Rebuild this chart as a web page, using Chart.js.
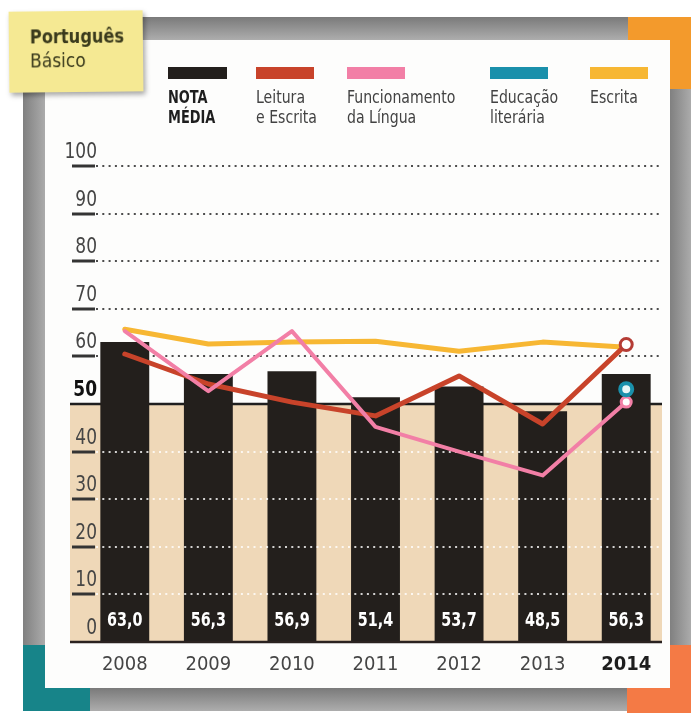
<!DOCTYPE html>
<html>
<head>
<meta charset="utf-8">
<script src="https://cdn.jsdelivr.net/npm/chart.js@4/dist/chart.umd.min.js"></script>
<style>
  body { margin: 0; background: #fff; }
  #wrap { position: relative; width: 691px; height: 713px; overflow: hidden;
          font-family: "DejaVu Sans Condensed", "DejaVu Sans", sans-serif; color: #3c3c3c; }
  .blk { position: absolute; }
  .gray-h { background: linear-gradient(#7a7a7a, #adadad); }
  .gray-v { background: linear-gradient(90deg, #808080, #ababab); }
  #panel { position: absolute; left: 45px; top: 40px; width: 625px; height: 648px; background: #fdfdfc; }
  canvas { position: absolute; left: 0; top: 0; }
  .sw { position: absolute; top: 67px; height: 12px; }
  .lg { position: absolute; top: 87px; font-size: 18px; line-height: 20px; color: #424242;
        transform: scaleX(0.87); transform-origin: left top; white-space: nowrap; }
  #note { position: absolute; left: 9px; top: 11px; width: 134px; height: 81px; background: #f5e993;
          box-shadow: 2px 3px 5px rgba(0,0,0,0.35); transform: rotate(-0.6deg); }
  #note .t1 { position: absolute; left: 21px; top: 14px; font-size: 19px; font-weight: bold; color: #3a3a1c;
              transform: scaleX(0.95); transform-origin: left top; }
  #note .t2 { position: absolute; left: 21px; top: 38px; font-size: 19px; color: #3a3a1c; }
</style>
</head>
<body>
<div id="wrap">
  <!-- frame -->
  <div class="blk gray-h" style="left:95px;top:17px;width:540px;height:23px"></div>
  <div class="blk gray-v" style="left:23px;top:85px;width:22px;height:610px"></div>
  <div class="blk gray-h" style="left:85px;top:688px;width:545px;height:23px"></div>
  <div class="blk gray-v" style="left:670px;top:80px;width:21px;height:570px"></div>
  <div class="blk" style="left:628px;top:17px;width:63px;height:23px;background:#f39a2c"></div>
  <div class="blk" style="left:670px;top:17px;width:21px;height:72px;background:#f39a2c"></div>
  <div class="blk" style="left:23px;top:645px;width:22px;height:66px;background:#178489"></div>
  <div class="blk" style="left:23px;top:688px;width:67px;height:23px;background:#178489"></div>
  <div class="blk" style="left:627px;top:688px;width:64px;height:25px;background:#f47a45"></div>
  <div class="blk" style="left:670px;top:645px;width:21px;height:68px;background:#f47a45"></div>
  <div id="panel"></div>

  <canvas id="c" width="691" height="713"></canvas>

  <!-- legend -->
  <div class="sw" style="left:168px;width:59px;background:#231f1c"></div>
  <div class="sw" style="left:256px;width:58px;background:#c8432a"></div>
  <div class="sw" style="left:347px;width:58px;background:#f27fa6"></div>
  <div class="sw" style="left:490px;width:58px;background:#1a90ab"></div>
  <div class="sw" style="left:590px;width:58px;background:#f7b733"></div>
  <div class="lg" style="left:168px;font-weight:bold;color:#1e1e1e;transform:scaleX(0.8)">NOTA<br>MÉDIA</div>
  <div class="lg" style="left:256px">Leitura<br>e Escrita</div>
  <div class="lg" style="left:347px">Funcionamento<br>da Língua</div>
  <div class="lg" style="left:490px">Educação<br>literária</div>
  <div class="lg" style="left:590px">Escrita</div>

  <div id="note"><div class="t1">Português</div><div class="t2">Básico</div></div>
</div>

<script>
// Portuguese (Básico) exam results by year
const years = ['2008', '2009', '2010', '2011', '2012', '2013', '2014'];
const notaMedia = [63.0, 56.3, 56.9, 51.4, 53.7, 48.5, 56.3];
const leituraEscrita = [60.5, 54.2, 50.4, 47.5, 55.9, 45.8, 62.5];
const funcionamentoLingua = [65.3, 52.7, 65.3, 45.2, 40.0, 35.0, 50.4];
const educacaoLiteraria = [null, null, null, null, null, null, 53.1];
const escrita = [65.7, 62.6, 63.0, 63.2, 61.1, 63.0, 61.9];
const yTicks = [0, 10, 20, 30, 40, 50, 60, 70, 80, 90, 100];

const FONT = '"DejaVu Sans Condensed", "DejaVu Sans", sans-serif';
const TAN = '#efd8b8';
const BAR = '#231f1c';

const fmt = v => v.toFixed(1).replace('.', ',');

// narrow text: draw horizontally squeezed around the anchor point
function squeezedText(ctx, text, x, y, align, sx) {
  ctx.save();
  ctx.translate(x, y);
  ctx.scale(sx, 1);
  ctx.textAlign = align;
  ctx.fillText(text, 0, 0);
  ctx.restore();
}

// background band (0–50), grid, tick dashes, reference lines, labels
const decor = {
  id: 'decor',
  beforeDatasetsDraw(chart) {
    const { ctx, chartArea: a, scales: { y } } = chart;
    const L = a.left - 13, R = a.right - 6;
    const y0 = y.getPixelForValue(0), y50 = y.getPixelForValue(50);
    ctx.save();
    ctx.fillStyle = TAN;
    ctx.fillRect(L, y50, R - L, y0 - y50);

    ctx.setLineDash([2, 4.3]);
    ctx.lineWidth = 2;
    ctx.strokeStyle = '#4d4d4d';
    yTicks.filter(v => v > 50).forEach(v => {
      const p = Math.round(y.getPixelForValue(v));
      ctx.beginPath(); ctx.moveTo(a.left + 13, p); ctx.lineTo(R - 2, p); ctx.stroke();
    });

    ctx.setLineDash([]);
    ctx.lineWidth = 3;
    ctx.strokeStyle = '#343434';
    yTicks.filter(v => v !== 0 && v !== 50).forEach(v => {
      const p = Math.round(y.getPixelForValue(v));
      ctx.beginPath(); ctx.moveTo(L + 2, p); ctx.lineTo(a.left + 12, p); ctx.stroke();
    });

    ctx.lineWidth = 2.5;
    ctx.strokeStyle = '#1f1f1f';
    ctx.beginPath(); ctx.moveTo(L, y50); ctx.lineTo(R, y50); ctx.stroke();

    // y-axis tick labels, sitting above their tick dash
    ctx.textBaseline = 'alphabetic';
    yTicks.forEach(v => {
      const p = y.getPixelForValue(v);
      ctx.fillStyle = v === 50 ? '#111111' : '#454545';
      ctx.font = (v === 50 ? 'bold ' : '') + '22px ' + FONT;
      squeezedText(ctx, String(v), a.left + 14, p - 8, 'right', 0.86);
    });
    ctx.restore();
  },
  afterDatasetDraw(chart, args) {
    if (args.index !== 0) return;
    const { ctx, chartArea: a, scales: { y } } = chart;
    const L = a.left - 13, R = a.right - 6;
    const y0 = y.getPixelForValue(0);
    ctx.save();
    ctx.setLineDash([2, 4.3]);
    ctx.lineWidth = 2;
    ctx.strokeStyle = 'rgba(255,255,255,0.8)';
    yTicks.filter(v => v > 0 && v < 50).forEach(v => {
      const p = Math.round(y.getPixelForValue(v));
      ctx.beginPath(); ctx.moveTo(a.left + 13, p); ctx.lineTo(R - 2, p); ctx.stroke();
    });
    ctx.setLineDash([]);
    ctx.lineWidth = 2.5;
    ctx.strokeStyle = '#2a2220';
    ctx.beginPath(); ctx.moveTo(L, y0); ctx.lineTo(R, y0); ctx.stroke();

    ctx.fillStyle = '#ffffff';
    ctx.font = 'bold 19px ' + FONT;
    ctx.textBaseline = 'middle';
    chart.getDatasetMeta(0).data.forEach((bar, i) => {
      squeezedText(ctx, fmt(notaMedia[i]), bar.x, y0 - 21, 'center', 0.84);
    });
    ctx.restore();
  }
};

const lineBase = {
  type: 'line', tension: 0, borderWidth: 5, borderCapStyle: 'round', borderJoinStyle: 'round',
  pointRadius: 0, pointHoverRadius: 0, spanGaps: false
};
const endPoint = (r) => ctx => ctx.dataIndex === years.length - 1 ? r : 0;

new Chart(document.getElementById('c'), {
  data: {
    labels: years,
    datasets: [
      { type: 'bar', label: 'NOTA MÉDIA', data: notaMedia, backgroundColor: BAR,
        barPercentage: 0.585, categoryPercentage: 1, order: 10 },
      { ...lineBase, label: 'Escrita', data: escrita, borderColor: '#f7b733', order: 6 },
      { ...lineBase, label: 'Leitura e Escrita', data: leituraEscrita, borderColor: '#c8432a', order: 4,
        pointRadius: endPoint(6), pointBackgroundColor: '#ffffff', pointBorderColor: '#b53c35', pointBorderWidth: 3 },
      { ...lineBase, label: 'Funcionamento da Língua', data: funcionamentoLingua, borderColor: '#f27fa6', borderWidth: 4, order: 3,
        pointRadius: endPoint(5), pointBackgroundColor: '#ffffff', pointBorderColor: '#f27fa6', pointBorderWidth: 3 },
      { ...lineBase, label: 'Educação literária', data: educacaoLiteraria, borderColor: '#1a90ab', order: 2,
        pointRadius: endPoint(6), pointBackgroundColor: '#e8f6f6', pointBorderColor: '#1a90ab', pointBorderWidth: 4 }
    ]
  },
  options: {
    responsive: false,
    animation: false,
    events: [],
    layout: { padding: { left: 83, right: 23, top: 166, bottom: 0 } },
    plugins: { legend: { display: false }, tooltip: { enabled: false } },
    scales: {
      x: {
        grid: { display: false, drawTicks: false },
        border: { display: false },
        afterFit: s => { s.height = 71; },
        ticks: {
          padding: 11,
          color: ctx => ctx.index === years.length - 1 ? '#1e1e1e' : '#454545',
          font: ctx => ({ family: FONT, size: 20, weight: ctx.index === years.length - 1 ? 'bold' : 'normal' })
        }
      },
      y: {
        display: false,
        min: 0, max: 100
      }
    }
  },
  plugins: [decor]
});
</script>
</body>
</html>
